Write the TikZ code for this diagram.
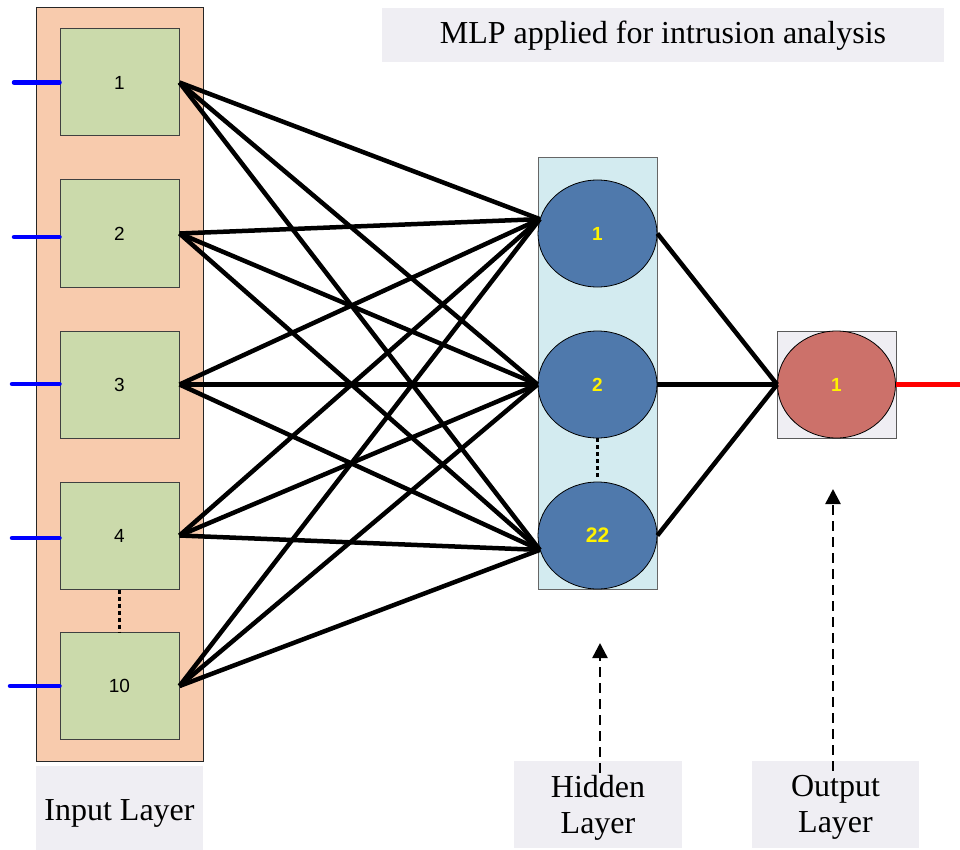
\documentclass[tikz,border=0pt]{standalone}
\usepackage{fontspec}
\setmainfont{Liberation Serif}
\newfontfamily\arialf{Liberation Sans}
\usetikzlibrary{shapes.geometric,arrows.meta}
\definecolor{peach}{HTML}{F8CBAD}
\definecolor{ingreen}{HTML}{CBDAAB}
\definecolor{hidbgc}{HTML}{D3EBF0}
\definecolor{hidblue}{HTML}{4F79AC}
\definecolor{outred}{HTML}{CC716A}
\definecolor{lblgray}{HTML}{EFEEF3}
\definecolor{inblue}{HTML}{0000FF}
\begin{document}
\begin{tikzpicture}[x=1pt,y=-1pt,
  inbg/.style={draw=black!85, fill=peach, line width=1pt, minimum width=167pt, minimum height=753pt, inner sep=0pt},
  inbox/.style={draw=black!75, fill=ingreen, line width=1pt, minimum width=119pt, minimum height=107pt, inner sep=0pt, font=\arialf\fontsize{19}{21}\selectfont},
  hidbg/.style={draw=black!60, fill=hidbgc, line width=1pt, minimum width=119pt, minimum height=431pt, inner sep=0pt},
  hidn/.style={ellipse, draw=black, fill=hidblue, line width=0.8pt, minimum width=119pt, minimum height=107pt, inner sep=0pt, text=yellow, font=\arialf\bfseries\fontsize{19}{21}\selectfont},
  outbg/.style={draw=black!65, fill=lblgray, line width=1pt, minimum width=119pt, minimum height=107pt, inner sep=0pt},
  outn/.style={ellipse, draw=black, fill=outred, line width=0.8pt, minimum width=118pt, minimum height=107pt, inner sep=0pt, text=yellow, font=\arialf\bfseries\fontsize{19}{21}\selectfont},
  lbl/.style={fill=lblgray, inner sep=0pt, align=center, font=\fontsize{32}{36}\selectfont},
  lbltext/.style={inner sep=0pt, align=center, font=\fontsize{32}{36}\selectfont},
  conn/.style={line width=4.5pt, black},
  inline/.style={line width=4.5pt, inblue, line cap=round},
  dotline/.style={line width=3pt, black, dash pattern=on 4pt off 3pt},
  ptr/.style={line width=2.5pt, black, dash pattern=on 10pt off 6pt, -{Triangle[length=15pt,width=15pt]}}
]
\useasboundingbox (0,0) rectangle (960,850);

% input layer
\node[inbg] (inbg) at (119.5,384.5) {};
\node[inbox] (i1) at (119.5,82.5) {1};
\node[inbox] (i2) at (119.5,233.5) {2};
\node[inbox] (i3) at (119.5,384.5) {3};
\node[inbox] (i4) at (119.5,535.5) {4};
\node[inbox] (i10) at (119.5,686) {10};

% hidden layer
\node[hidbg] (hbg) at (597.5,373.5) {};
\node[hidn] (h1) at (597.5,233.5) {1};
\node[hidn] (h2) at (597.5,384.5) {2};
\node[hidn] (h3) at (597.5,535.5) {\fontsize{21}{23}\selectfont 22};

% output layer
\node[outbg] (obg) at (836.5,384.5) {};
\node[outn] (o1) at (836.5,384.5) {1};

% labels
\node[lbl, minimum width=562pt, minimum height=54pt, text height=25pt, text depth=7pt] (title) at (663,35) {MLP applied for intrusion analysis};
\node[lbl, minimum width=167pt, minimum height=84pt, text height=31pt, text depth=7pt] (linput) at (119.5,808) {Input Layer};
\node[lbl, minimum width=168pt, minimum height=87pt] (lhidden) at (598,804.5) {};
\node[lbl, minimum width=167pt, minimum height=87pt] (loutput) at (835.5,804.5) {};
\node[lbltext] (thidden) at (598,807.5) {Hidden\\Layer};
\node[lbltext] (toutput) at (835.5,807.5) {Output\\Layer};

% input lines
\coordinate (b1) at (14,82.5);
\coordinate (b2) at (14,237);
\coordinate (b3) at (12,384);
\coordinate (b4) at (12,538);
\coordinate (b10) at (10,686);
\draw[inline] (b1) -- (i1.west);
\draw[inline] (b2) -- (i2.west |- b2);
\draw[inline] (b3) -- (i3.west |- b3);
\draw[inline] (b4) -- (i4.west |- b4);
\draw[inline] (b10) -- (i10.west);

% dotted ellipsis
\draw[dotline] (i4.south) -- (i10.north);
\draw[dotline] (h2.south) -- ([yshift=4pt]h3.north);

% connections input -> hidden
\foreach \i in {i1,i2,i3,i4,i10}{
  \draw[conn] (\i.east) -- (h1.166);
  \draw[conn] (\i.east) -- (h2.west);
  \draw[conn] (\i.east) -- (h3.194);
}
% hidden -> output
\foreach \h in {h1,h2,h3}{
  \draw[conn] (\h.east) -- (o1.west);
}
% output line
\coordinate (oend) at (960,384.5);
\draw[line width=4.5pt, red] (o1.east) -- (oend);

% pointers
\coordinate (hp) at (600,643);
\coordinate (op) at (833,489);
\draw[ptr] ([xshift=2pt]lhidden.north) ++(0,12) -- (hp);
\draw[ptr] ([xshift=-2.5pt]loutput.north) ++(0,10) -- (op);
\end{tikzpicture}
\end{document}
